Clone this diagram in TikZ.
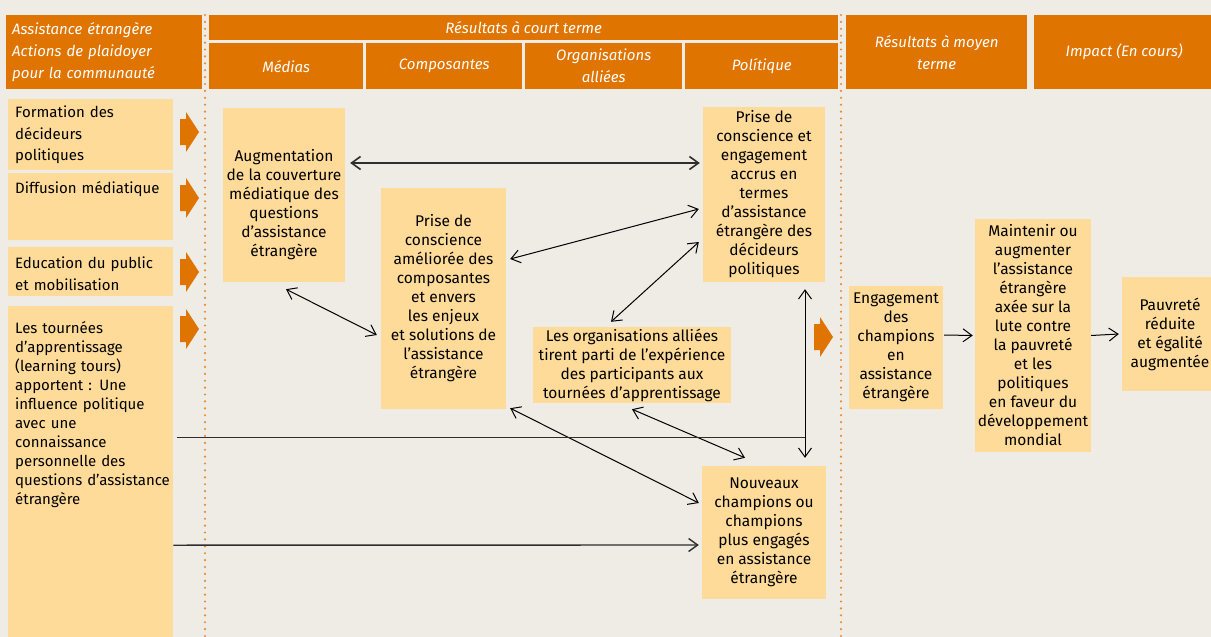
\documentclass[tikz,border=0pt]{standalone}
\usepackage{fontspec}
\setmainfont{Fira Sans}
\usetikzlibrary{arrows.meta,calc}
\definecolor{fond}{HTML}{EFEBE5}
\definecolor{myorange}{HTML}{E07400}
\definecolor{boite}{HTML}{FEDB98}
\definecolor{trait}{HTML}{2E2E2E}
\definecolor{pointille}{HTML}{EB8A2C}

\begin{document}
\begin{tikzpicture}[x=1pt,y=-1pt,
		every node/.style={font=\fontsize{15.5}{19}\selectfont},
		entete/.style={fill=myorange, text=white, font=\fontsize{15}{22}\selectfont\itshape, inner sep=0pt, align=center, anchor=north west},
		boite/.style={fill=boite, inner sep=1pt, align=center},
		gauche/.style={fill=boite, inner sep=0pt, anchor=north west, minimum width=165pt},
		textegauche/.style={inner sep=0pt, anchor=north west, align=left, text width=175pt, font=\fontsize{15}{19}\selectfont},
		lien/.style={{Straight Barb[length=9pt,width=13pt]}-{Straight Barb[length=9pt,width=13pt]}, line width=1pt},
		simple/.style={-{Straight Barb[length=9pt,width=13pt]}, line width=1pt},
		pointilles/.style={draw=pointille, line width=2.4pt, line cap=round, dash pattern=on 0pt off 6.9pt}]
		%% fond et cadre de la page
		\fill[fond] (0,0) rectangle (1211,637);
		\useasboundingbox (0,0) rectangle (1211,637);
		\clip (0,0) rectangle (1211,637);
		%% les en-tetes orange
		\node[entete, minimum width=196pt, minimum height=74pt, text width=184pt, inner xsep=6pt, align=left] (acteurs) at (6,15) {Assistance étrangère\\Actions de plaidoyer\\pour la communauté};
		\node[entete, minimum width=629pt, minimum height=25pt] (court) at (209,15) {Résultats à court terme};
		\node[entete, minimum width=154pt, minimum height=46pt] (medias) at (209,43) {Médias};
		\node[entete, minimum width=156pt, minimum height=46pt] (compos) at (366,43) {Composantes};
		\node[entete, minimum width=157pt, minimum height=46pt] (allies) at (525,43) {Organisations\\alliées};
		\node[entete, minimum width=153pt, minimum height=46pt] (politique) at (685,43) {Polítique};
		\node[entete, minimum width=181pt, minimum height=74pt] (moyen) at (846,15) {Résultats à moyen\\terme};
		\node[entete, minimum width=180pt, minimum height=74pt] (impact) at (1034,15) {Impact (En cours)};
		%% les lignes pointillees qui separent les colonnes
		\draw[pointilles] (205,15) -- (205,637);
		\draw[pointilles] (841,15) -- (841,637);
		%% colonne de gauche : les actions
		\node[gauche, minimum height=71pt] (form) at (8,99) {};
		\node[textegauche, font=\fontsize{15}{21.5}\selectfont] (formtxt) at (15,106) {Formation des\\décideurs\\politiques};
		\node[gauche, minimum height=67pt] (diff) at (8,173) {};
		\node[textegauche] (difftxt) at (15,181) {Diffusion médiatique};
		\node[gauche, minimum height=49pt] (educ) at (8,247) {};
		\node[textegauche, font=\fontsize{15}{21.5}\selectfont] (eductxt) at (15,257) {Education du public\\et mobilisation};
		\node[gauche, minimum height=344pt] (tour) at (8,306) {};
		\node[textegauche] (tourtxt) at (15,321) {Les tournées\\d’apprentissage\\(learning tours)\\apportent : Une\\influence politique\\avec une\\connaissance\\personnelle des\\questions d’assistance\\étrangère};
		%% les fleches orange pleines
		\foreach \fx/\fy in {180/132, 180/198, 180/272, 180/329, 814/337}
		\fill[myorange, shift={(\fx,\fy)}] (0,-13) -- (6,-13) -- (6,-20) -- (19,0) -- (6,20) -- (6,13) -- (0,13) -- cycle;
		%% resultats a court terme
		\node[boite, minimum width=122pt, minimum height=174pt] (augm) at (284,195) {\mbox{}\\[12pt]Augmentation\\de la couverture\\médiatique des\\questions\\d’assistance\\étrangère};
		\node[boite, minimum width=125pt, minimum height=221pt] (compo) at (443.5,298.5) {Prise de\\conscience\\améliorée des\\composantes\\et envers\\les enjeux\\et solutions de\\l’assistance\\étrangère};
		\node[boite, minimum width=122pt, minimum height=175pt] (polit) at (764,194.5) {Prise de\\conscience et\\engagement\\accrus en\\termes\\d’assistance\\étrangère des\\décideurs\\politiques};
		\node[boite, minimum width=198pt, minimum height=76pt] (orgs) at (632,365) {Les organisations alliées\\tirent parti de l’expérience\\des participants aux\\tournées d’apprentissage};
		\node[boite, minimum width=124pt, minimum height=133pt] (nouv) at (764,532.5) {Nouveaux\\champions ou\\champions\\plus engagés\\en assistance\\étrangère};
		%% moyen terme et impact
		\node[boite, minimum width=94pt, minimum height=123pt] (engag) at (896,347.5) {Engagement\\des\\champions\\en\\assistance\\étrangère};
		\node[boite, minimum width=116pt, minimum height=233pt] (maint) at (1033,335.5) {Maintenir ou\\augmenter\\l’assistance\\étrangère\\axée sur la\\lute contre\\la pauvreté\\et les\\politiques\\en faveur du\\développement\\mondial};
		\node[boite, minimum width=96pt, minimum height=114pt] (pauv) at (1170,334) {Pauvreté\\réduite\\et égalité\\augmentée};
		%% les liens entre les boites
		\draw[lien, line width=1.6pt, draw=trait] ([shift={(5,-32)}]augm.east) -- ([shift={(-3,-31.5)}]polit.west);
		\draw[lien] ([shift={(4,-39.5)}]compo.east) -- ([shift={(-4,14.5)}]polit.west);
		\draw[lien] ([shift={(-21,-5)}]orgs.north) -- ([shift={(-4,47.5)}]polit.west);
		\draw[lien] ([shift={(2,7)}]augm.south) -- ([shift={(-4,36.5)}]compo.west);
		\draw[lien] ([shift={(4,-1)}]compo.south east) -- ([shift={(-3,-29.5)}]nouv.west);
		\draw[lien] ([shift={(0,6)}]orgs.south) -- ([shift={(-19,-8)}]nouv.north);
		\draw[lien] ([shift={(41,7)}]polit.south) -- ([shift={(41,-8)}]nouv.north);
		\draw[line width=1.4pt, draw=trait] ([shift={(4,-41)}]tour.east) -- ([shift={(41,155)}]polit.south);
		\draw[simple, line width=1.4pt, draw=trait] ([shift={(0,67)}]tour.east) -- ([shift={(-3,12.5)}]nouv.west);
		\draw[simple] ([shift={(1,-12.5)}]engag.east) -- ([shift={(-2,0)}]maint.west);
		\draw[simple] (maint.east) -- ([shift={(-3,0)}]pauv.west);
	\end{tikzpicture}
\end{document}
